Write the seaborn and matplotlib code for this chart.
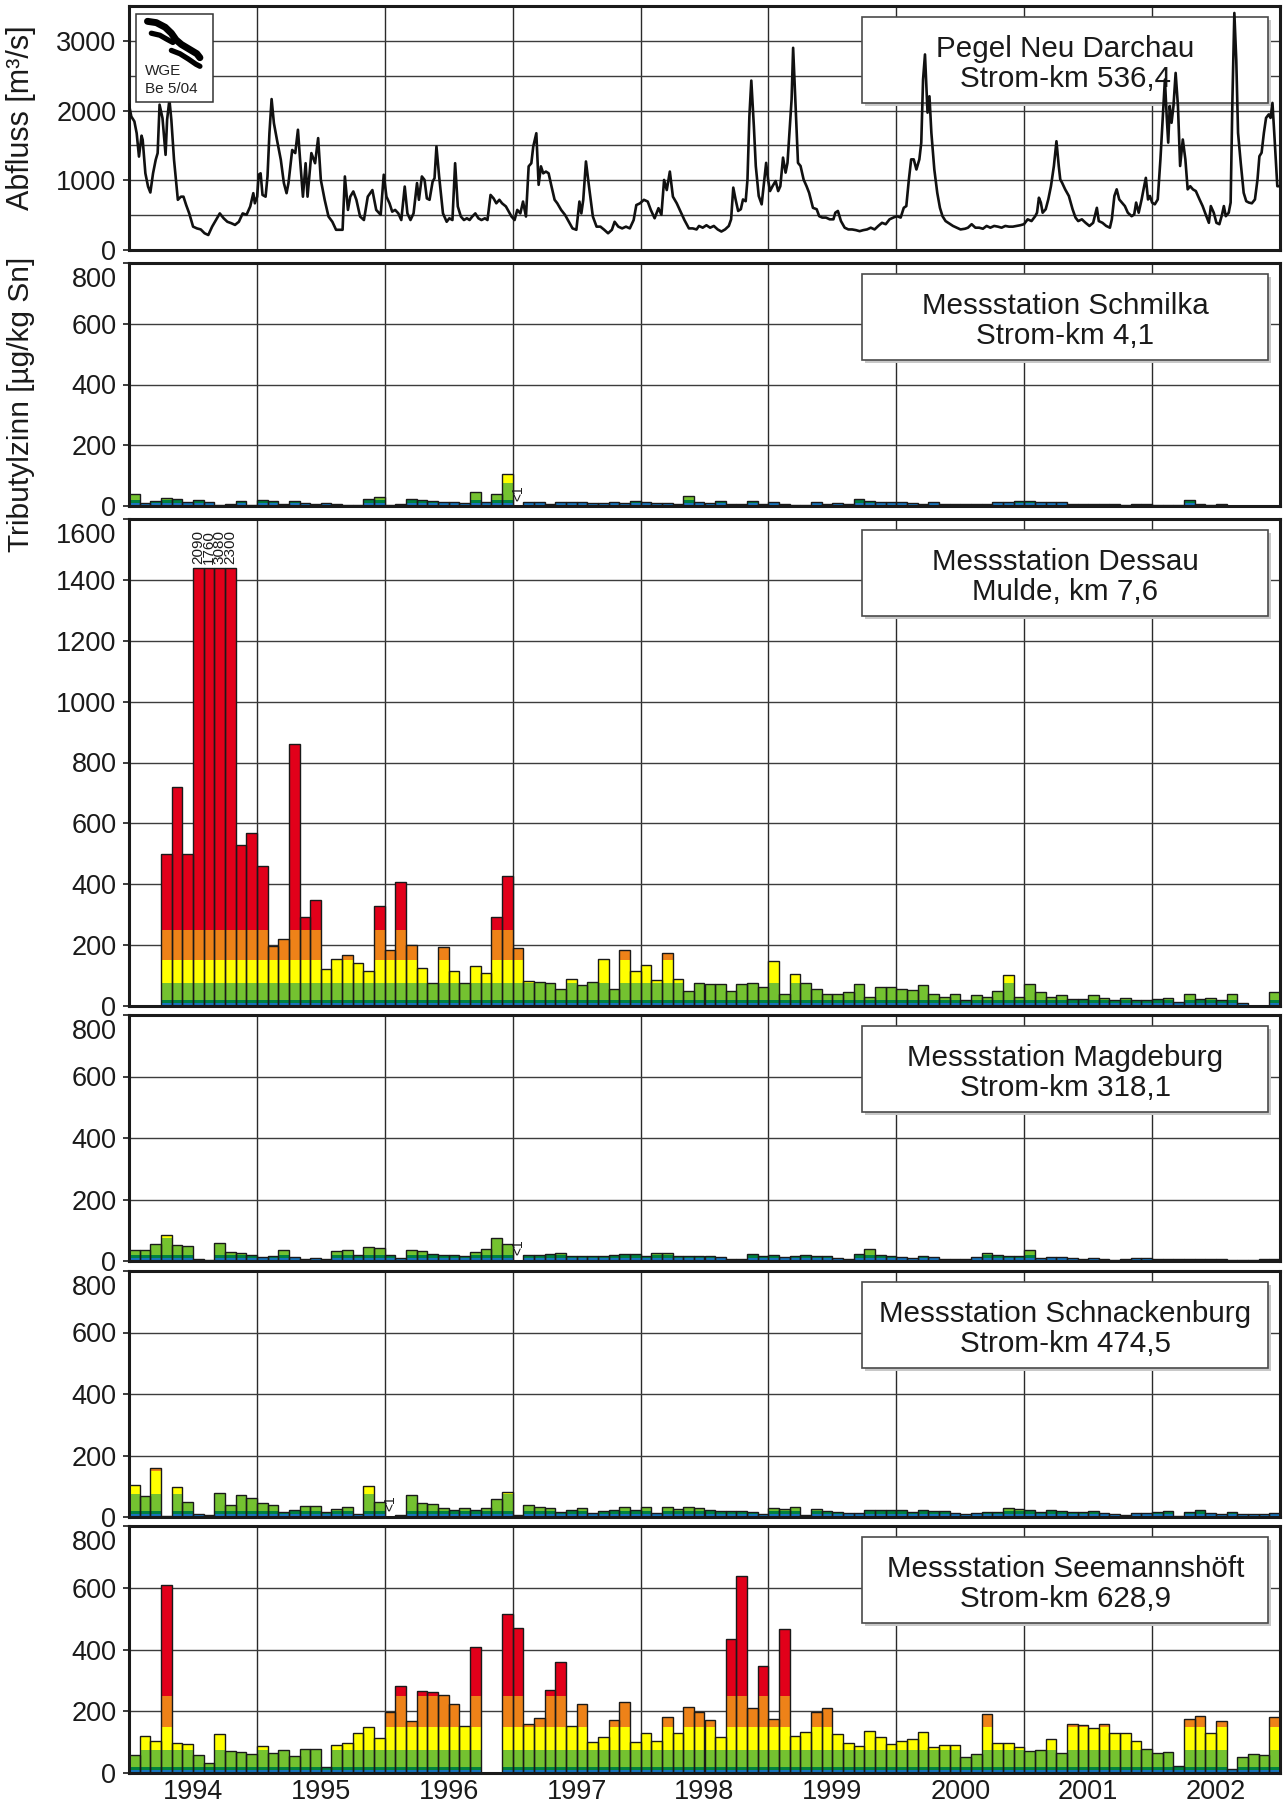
import numpy as np
import pandas as pd
import matplotlib
matplotlib.use("Agg")
import matplotlib.pyplot as plt
from matplotlib.patches import Rectangle
import seaborn as sns

sns.set_theme(style="ticks")
plt.rcParams['font.family'] = ['Liberation Sans', 'DejaVu Sans']

nan = np.nan

# ---------------------------------------------------------------
# Discharge at Pegel Neu Darchau (years after 1994-01-01, m3/s)
# ---------------------------------------------------------------
q_years = [
    0.000, 0.018, 0.042, 0.060, 0.078, 0.098, 0.107, 0.128, 0.149, 0.167,
    0.188, 0.209, 0.224, 0.239, 0.262, 0.286, 0.298, 0.316, 0.331, 0.352,
    0.382, 0.406, 0.426, 0.447, 0.471, 0.501, 0.531, 0.561, 0.591, 0.620,
    0.650, 0.680, 0.710, 0.740, 0.769, 0.799, 0.829, 0.859, 0.889, 0.919,
    0.948, 0.972, 0.984, 1.002, 1.014, 1.029, 1.044, 1.068, 1.083, 1.098,
    1.115, 1.133, 1.157, 1.187, 1.211, 1.232, 1.247, 1.276, 1.300, 1.321,
    1.336, 1.360, 1.381, 1.396, 1.426, 1.455, 1.479, 1.500, 1.530, 1.560,
    1.590, 1.619, 1.649, 1.670, 1.688, 1.712, 1.730, 1.754, 1.778, 1.807,
    1.837, 1.867, 1.903, 1.933, 1.968, 1.992, 2.013, 2.037, 2.058, 2.081,
    2.106, 2.129, 2.156, 2.177, 2.201, 2.225, 2.252, 2.267, 2.290, 2.311,
    2.329, 2.350, 2.374, 2.389, 2.404, 2.425, 2.455, 2.484, 2.505, 2.529,
    2.550, 2.571, 2.595, 2.619, 2.642, 2.663, 2.684, 2.708, 2.732, 2.756,
    2.783, 2.803, 2.827, 2.851, 2.872, 2.896, 2.917, 2.947, 2.970, 2.991,
    3.015, 3.036, 3.060, 3.081, 3.104, 3.125, 3.146, 3.161, 3.185, 3.203,
    3.221, 3.239, 3.260, 3.281, 3.304, 3.328, 3.349, 3.379, 3.409, 3.439,
    3.468, 3.498, 3.522, 3.537, 3.552, 3.573, 3.597, 3.627, 3.656, 3.686,
    3.716, 3.746, 3.776, 3.797, 3.826, 3.856, 3.886, 3.916, 3.946, 3.967,
    3.996, 4.026, 4.056, 4.080, 4.110, 4.140, 4.163, 4.184, 4.205, 4.229,
    4.253, 4.283, 4.313, 4.343, 4.378, 4.408, 4.438,
    4.457, 4.486, 4.515, 4.544, 4.573, 4.603, 4.632, 4.661, 4.690, 4.708,
    4.725, 4.743, 4.763, 4.784, 4.801, 4.822, 4.836, 4.851, 4.866, 4.886,
    4.901, 4.924, 4.947, 4.968, 4.982, 4.997, 5.012, 5.032, 5.056, 5.076,
    5.093, 5.114, 5.134, 5.149, 5.164, 5.181, 5.193, 5.210, 5.231, 5.251,
    5.275, 5.298, 5.318, 5.348, 5.377, 5.397, 5.421, 5.450, 5.479, 5.508,
    5.523, 5.543, 5.567, 5.596, 5.625, 5.654, 5.684, 5.713, 5.742, 5.771,
    5.800, 5.830, 5.859, 5.888, 5.917, 5.947, 5.976, 6.005, 6.034, 6.058,
    6.078, 6.098, 6.116, 6.136, 6.157, 6.180, 6.195, 6.209, 6.224, 6.244,
    6.259, 6.274, 6.297, 6.320, 6.341, 6.361, 6.385, 6.414, 6.443, 6.472,
    6.502, 6.537, 6.560, 6.589, 6.618, 6.648, 6.677, 6.706, 6.735, 6.765,
    6.794, 6.823, 6.852, 6.881, 6.911, 6.940, 6.969, 6.998, 7.027, 7.057,
    7.086, 7.100, 7.115, 7.130, 7.144, 7.168, 7.188, 7.209, 7.232, 7.252,
    7.270, 7.282, 7.296, 7.320, 7.349, 7.378, 7.401, 7.422, 7.451, 7.480,
    7.510, 7.539, 7.568, 7.583, 7.612, 7.641, 7.670, 7.685, 7.705, 7.723,
    7.743, 7.764, 7.787, 7.810, 7.840, 7.860, 7.875, 7.895, 7.918, 7.933,
    7.951, 7.968, 7.983, 8.000, 8.021, 8.044, 8.065, 8.085, 8.100, 8.114,
    8.126, 8.138, 8.152, 8.167, 8.184, 8.202, 8.219, 8.240, 8.260, 8.278,
    8.298, 8.319, 8.342, 8.371, 8.395, 8.424, 8.444, 8.459, 8.482, 8.503,
    8.526, 8.547, 8.561, 8.576, 8.599, 8.614, 8.628, 8.643, 8.658, 8.672,
    8.693, 8.716, 8.736, 8.757, 8.780, 8.804, 8.824, 8.839, 8.856, 8.874,
    8.891, 8.912, 8.926, 8.941, 8.955, 8.979, 8.999,
]
q_flow = [
    2085, 1915, 1845, 1675, 1340, 1640, 1580, 1100, 910, 825,
    1100, 1295, 1390, 2085, 1890, 1365, 1870, 2155, 1870, 1295,
    720, 765, 765, 645, 525, 335, 310, 295, 240, 215,
    335, 430, 525, 455, 405, 385, 360, 405, 525, 505,
    625, 815, 670, 765, 1080, 1100, 790, 765, 1055, 1675,
    2165, 1820, 1580, 1295, 960, 815, 960, 1435, 1390, 1725,
    1340, 765, 1245, 765, 1390, 1245, 1605, 1005, 720, 480,
    405, 290, 290, 290, 1055, 575, 765, 840, 720, 480,
    430, 765, 860, 575, 505, 1080, 765, 670, 550, 575,
    525, 430, 910, 525, 430, 525, 960, 720, 1055, 1005,
    740, 720, 980, 1030, 1485, 1055, 525, 405, 455, 430,
    1245, 625, 480, 430, 455, 430, 480, 525, 455, 430,
    455, 430, 790, 740, 670, 720, 670, 625, 550, 480,
    430, 575, 525, 695, 480, 1200, 1245, 1485, 1675, 935,
    1200, 1100, 1125, 1100, 910, 720, 670, 575, 505, 405,
    310, 290, 695, 525, 720, 1270, 910, 480, 335, 335,
    290, 240, 290, 405, 335, 310, 335, 310, 430, 645,
    670, 720, 695, 575, 455, 600, 505, 1005, 860, 1125,
    765, 670, 550, 430, 310, 310, 295,
    345, 320, 355, 320, 345, 295, 265, 295, 345, 440,
    895, 725, 560, 585, 725, 700, 1010, 1920, 2430, 1775,
    1205, 775, 655, 1010, 1250, 1010, 845, 915, 990, 845,
    915, 1325, 1110, 1250, 1680, 2160, 2900, 2160, 1250, 1205,
    1010, 915, 820, 605, 585, 485, 465, 465, 440, 440,
    535, 560, 415, 320, 295, 295, 285, 270, 285, 295,
    320, 295, 345, 390, 370, 440, 465, 485, 465, 605,
    630, 1010, 1300, 1300, 1155, 1300, 1540, 2445, 2805, 1970,
    2205, 1680, 1155, 820, 605, 485, 415, 380, 345, 320,
    295, 305, 320, 370, 320, 320, 305, 345, 320, 345,
    335, 320, 345, 335, 335, 345, 355, 370, 440, 415,
    485, 535, 750, 680, 535, 585, 725, 915, 1205, 1560,
    1205, 1010, 965, 870, 775, 585, 465, 415, 440, 390,
    345, 390, 605, 415, 390, 345, 320, 440, 775, 870,
    725, 680, 630, 535, 485, 510, 680, 535, 725, 870,
    1035, 725, 775, 680, 655, 725, 1300, 1970, 2445, 1920,
    1540, 2065, 1825, 2065, 2540, 2065, 1205, 1585, 1300, 870,
    915, 870, 845, 725, 630, 485, 390, 630, 535, 390,
    370, 510, 630, 485, 535, 680, 2160, 3400, 2730, 1680,
    1250, 820, 700, 680, 670, 725, 1010, 1345, 1395, 1680,
    1895, 1945, 1895, 2110, 1680, 915, 915,
]

# ---------------------------------------------------------------
# Monthly tributyltin (µg/kg Sn), January 1994 .. December 2002
# ---------------------------------------------------------------
schmilka = [
    40, 9, 17, 25, 23, 13, 20, 13, 3, 5, 16, 3,
    20, 16, 7, 15, 9, 6, 10, 6, 3, 3, 22, 28,
    3, 6, 23, 21, 17, 13, 13, 9, 45, 14, 40, 105,
    nan, 12, 12, 8, 12, 13, 13, 9, 9, 13, 9, 15,
    12, 9, 9, 6, 33, 13, 11, 15, 6, 8, 18, 8,
    12, 5, 2, 2, 12, 6, 9, 6, 23, 15, 12, 12,
    12, 9, 6, 12, 6, 5, 5, 7, 8, 12, 12, 15,
    15, 12, 12, 13, 6, 6, 5, 5, 6, 2, 5, 5,
    2, 2, 2, 20, 5, 2, 5, nan, nan, nan, nan, nan,
]
dessau = [
    nan, nan, nan, 500, 720, 500, 2090, 1760, 3080, 2300, 530, 570,
    460, 197, 220, 860, 293, 348, 123, 155, 166, 140, 114, 330,
    183, 408, 202, 125, 74, 195, 115, 76, 130, 109, 293, 426,
    190, 82, 80, 76, 56, 90, 69, 79, 155, 56, 185, 116,
    135, 87, 175, 90, 50, 77, 73, 72, 50, 71, 76, 64,
    149, 41, 105, 75, 56, 41, 41, 45, 73, 30, 64, 64,
    56, 52, 70, 41, 30, 41, 20, 35, 31, 49, 103, 31,
    72, 47, 30, 37, 23, 23, 37, 26, 19, 25, 20, 20,
    23, 25, 13, 41, 23, 25, 20, 41, 10, nan, nan, 46,
]
magdeburg = [
    35, 35, 54, 86, 52, 50, 6, 2, 60, 29, 25, 18,
    13, 17, 37, 13, 7, 10, 8, 31, 36, 21, 44, 42,
    20, 10, 36, 31, 24, 21, 21, 17, 29, 39, 74, 56,
    nan, 19, 19, 23, 25, 15, 15, 17, 15, 20, 24, 23,
    15, 27, 26, 17, 17, 17, 16, 13, 5, 8, 24, 15,
    20, 13, 17, 20, 17, 17, 10, 6, 23, 39, 20, 17,
    14, 10, 17, 13, 6, 8, 8, 13, 27, 20, 17, 17,
    35, 11, 13, 12, 10, 6, 10, 6, 4, 8, 10, 10,
    5, 6, 7, 7, 7, 5, 6, 2, 4, 4, 6, 6,
]
schnackenburg = [
    103, 67, 160, 2, 96, 50, 11, 7, 79, 40, 73, 61,
    47, 40, 16, 23, 37, 37, 17, 26, 33, 10, 100, 50,
    nan, 8, 73, 46, 41, 30, 23, 30, 23, 30, 57, 80,
    7, 38, 33, 28, 16, 23, 28, 13, 18, 23, 32, 24,
    33, 14, 32, 26, 32, 30, 23, 20, 20, 20, 16, 11,
    28, 26, 34, 7, 27, 20, 17, 12, 14, 23, 23, 23,
    23, 17, 23, 21, 19, 14, 9, 13, 17, 17, 29, 26,
    23, 17, 23, 20, 17, 17, 20, 13, 10, 6, 13, 13,
    17, 19, 3, 17, 23, 14, 10, 17, 10, 10, 10, 13,
]
seemannshoeft = [
    57, 119, 104, 610, 97, 93, 59, 31, 127, 71, 69, 60,
    86, 64, 73, 56, 77, 77, 21, 90, 97, 129, 148, 113,
    198, 281, 170, 265, 262, 252, 223, 152, 407, nan, nan, 515,
    469, 159, 179, 270, 358, 153, 222, 102, 115, 173, 230, 99,
    130, 103, 182, 129, 215, 199, 171, 116, 434, 637, 209, 347,
    176, 465, 120, 133, 197, 210, 126, 97, 86, 136, 116, 93,
    103, 111, 133, 84, 90, 90, 51, 63, 192, 97, 98, 84,
    70, 73, 110, 64, 159, 156, 145, 159, 129, 130, 103, 79,
    65, 67, 24, 176, 184, 130, 167, 13, 51, 60, 57, 182,
]

# months with a result below 1 µg/kg (index into the monthly series)
below_one = {"Schmilka": [36], "Magdeburg": [36], "Schnackenburg": [24]}

# quality classes (µg/kg Sn) and their colours
class_bounds = [0, 10, 20, 75, 150, 250, 1e9]
class_colors = ["#1774bd", "#00813f", "#74c230", "#ffff00", "#ee8218", "#e2001a"]

years = np.arange(1994, 2003)
year_labels = [str(y) for y in years]

stations = [
    ("Schmilka", "Messstation Schmilka\nStrom-km 4,1", schmilka, 800),
    ("Dessau", "Messstation Dessau\nMulde, km 7,6", dessau, 1600),
    ("Magdeburg", "Messstation Magdeburg\nStrom-km 318,1", magdeburg, 800),
    ("Schnackenburg", "Messstation Schnackenburg\nStrom-km 474,5", schnackenburg, 800),
    ("Seemannshöft", "Messstation Seemannshöft\nStrom-km 628,9", seemannshoeft, 800),
]
dessau_clip = 1440

# ---------------------------------------------------------------
W, H = 1286, 1809
fig = plt.figure(figsize=(W / 100, H / 100), dpi=100)
fig.patch.set_facecolor("white")
left_px, right_px = 129, 1280
panel_px = [(6, 250), (263, 506), (519, 1006), (1015, 1261), (1271, 1517), (1526, 1773)]
axes = []
for top, bot in panel_px:
    axes.append(fig.add_axes([left_px / W, 1 - bot / H, (right_px - left_px) / W, (bot - top) / H]))

INK = "#1a1a1a"
TICK_FS = 19.5
TICK_LEN, TICK_PAD = 4, 5


def style_axes(ax, ymax, major, minor=None):
    ax.set_xlim(1994, 2003)
    ax.set_ylim(0, ymax)
    ax.set_xticks(years + 0.5)
    ax.set_xticklabels(year_labels)
    ax.set_xticks(np.arange(1995, 2003), minor=True)
    ax.set_yticks(np.arange(0, ymax + 1, major))
    if minor:
        ax.set_yticks(np.arange(0, ymax + 1, minor), minor=True)
    ax.set_axisbelow(True)
    ax.grid(True, which="minor", axis="x", color="#2a2a2a", lw=1.0)
    ax.grid(True, which="both" if minor else "major", axis="y", color="#3c3c3c", lw=1.0)
    ax.tick_params(axis="x", which="both", length=0, labelsize=TICK_FS, pad=4, colors=INK)
    ax.tick_params(axis="y", which="major", left=True, length=TICK_LEN, width=1.2, direction="out",
                   labelsize=TICK_FS, pad=TICK_PAD, colors=INK)
    ax.tick_params(axis="y", which="minor", left=False)
    for s in ax.spines.values():
        s.set_visible(True)
        s.set_linewidth(2.2)
        s.set_color(INK)
    ax.set_xlabel("")
    ax.set_ylabel("")


def station_box(ax, text, h_px, z=6):
    top = 1 - 11 / h_px
    bot = 1 - (11 + 86) / h_px
    x0, x1 = 0.637, 0.990
    dx, dy = 3 / (right_px - left_px), 3 / h_px
    ax.add_patch(Rectangle((x0 + dx, bot - dy), x1 - x0, top - bot, transform=ax.transAxes,
                           facecolor="#c8c8c8", edgecolor="none", zorder=z - 0.2))
    ax.add_patch(Rectangle((x0, bot), x1 - x0, top - bot, transform=ax.transAxes,
                           facecolor="white", edgecolor="#4a4a4a", lw=1.2, zorder=z - 0.1))
    ax.text((x0 + x1) / 2, (top + bot) / 2 - 4 / h_px, text, transform=ax.transAxes,
            ha="center", va="center", fontsize=21.3, color=INK, linespacing=1.1, zorder=z)


def draw_bars(ax, values, clip=None):
    v = np.asarray(values, dtype=float)
    idx = np.where(~np.isnan(v))[0]
    x = 1994 + (idx + 0.5) / 12
    shown = v[idx] if clip is None else np.minimum(v[idx], clip)
    for lo, hi, col in zip(class_bounds[:-1], class_bounds[1:], class_colors):
        seg = np.clip(shown, lo, hi) - lo
        ax.bar(x, seg, width=1 / 12, bottom=lo, color=col, edgecolor="none", linewidth=0, zorder=2)
    ax.bar(x, shown, width=1 / 12, facecolor="none", edgecolor=INK, linewidth=1.0, zorder=3)
    return x, v[idx]


def top_label_inside(ax, ymax):
    # the label of the upper limit sits just below the frame, clear of the panel above
    ticks = ax.get_yticks()
    ax.set_yticklabels(["" if np.isclose(t, ymax) else f"{t:.0f}" for t in ticks])
    ax.annotate(f"{ymax:.0f}", xy=(0, 1), xycoords="axes fraction",
                xytext=(-(TICK_LEN + TICK_PAD), -12.5), textcoords="offset points",
                ha="right", va="center", fontsize=TICK_FS, color=INK)


# ---- discharge panel
ax0 = axes[0]
qdf = pd.DataFrame({"year": 1994 + np.asarray(q_years), "flow": q_flow})
sns.lineplot(data=qdf, x="year", y="flow", ax=ax0, color="#111111", linewidth=1.9,
             estimator=None, sort=False, zorder=8)
style_axes(ax0, 3500, 1000, 500)
ax0.tick_params(labelbottom=False)
station_box(ax0, "Pegel Neu Darchau\nStrom-km 536,4", panel_px[0][1] - panel_px[0][0], z=2)

# logo block in the upper left corner
lx0, lx1, ly0, ly1 = 0.006, 0.073, 0.608, 0.967
ax0.add_patch(Rectangle((lx0, ly0), lx1 - lx0, ly1 - ly0, transform=ax0.transAxes,
                        facecolor="white", edgecolor="#333333", lw=1.1, zorder=9))


def logo_xy(px, py):
    return lx0 + (np.asarray(px) - 42) / 200 * (lx1 - lx0), ly1 - (np.asarray(py) - 40) / 265 * (ly1 - ly0)


for sx, sy, lw in [
    ([72, 95, 118, 134, 146, 160, 180, 200, 208], [62, 66, 80, 98, 118, 132, 146, 160, 172], 5.0),
    ([82, 104, 122, 138], [98, 104, 116, 126], 3.8),
    ([134, 156, 178, 198, 208], [150, 160, 176, 192, 198], 3.8),
]:
    ax0.plot(*logo_xy(sx, sy), transform=ax0.transAxes, color="black", lw=lw,
             solid_capstyle="round", zorder=10)
ax0.text(*logo_xy(66, 212), "WGE", transform=ax0.transAxes, ha="left", va="center",
         fontsize=11, color="#222222", zorder=10)
ax0.text(*logo_xy(66, 268), "Be 5/04", transform=ax0.transAxes, ha="left", va="center",
         fontsize=11, color="#222222", zorder=10)

# ---- concentration panels
for ax, (key, label, vals, ymax), (top, bot) in zip(axes[1:], stations, panel_px[1:]):
    clip = dessau_clip if key == "Dessau" else None
    x, raw = draw_bars(ax, vals, clip)
    style_axes(ax, ymax, 200)
    top_label_inside(ax, ymax)
    if clip is not None:
        for xi, vi in zip(x, raw):
            if vi > clip:
                ax.text(xi, clip + 12, f"{vi:.0f}", rotation=90, ha="center", va="bottom",
                        fontsize=11, color=INK, zorder=4)
    for i in below_one.get(key, []):
        ax.text(1994 + (i + 0.55) / 12, 18 * ymax / 800, "<1", rotation=90, ha="center",
                va="bottom", fontsize=10, color=INK, zorder=4)
    station_box(ax, label, bot - top)
    if ax is not axes[-1]:
        ax.tick_params(labelbottom=False)

fig.text(0.0165, 1 - 118 / H, "Abfluss [m³/s]", rotation=90, ha="center", va="center",
         fontsize=22, color=INK)
fig.text(0.0165, 1 - 404 / H, "Tributylzinn [µg/kg Sn]", rotation=90, ha="center", va="center",
         fontsize=21.5, color=INK)

fig.savefig("out.png", dpi=100, facecolor="white")
